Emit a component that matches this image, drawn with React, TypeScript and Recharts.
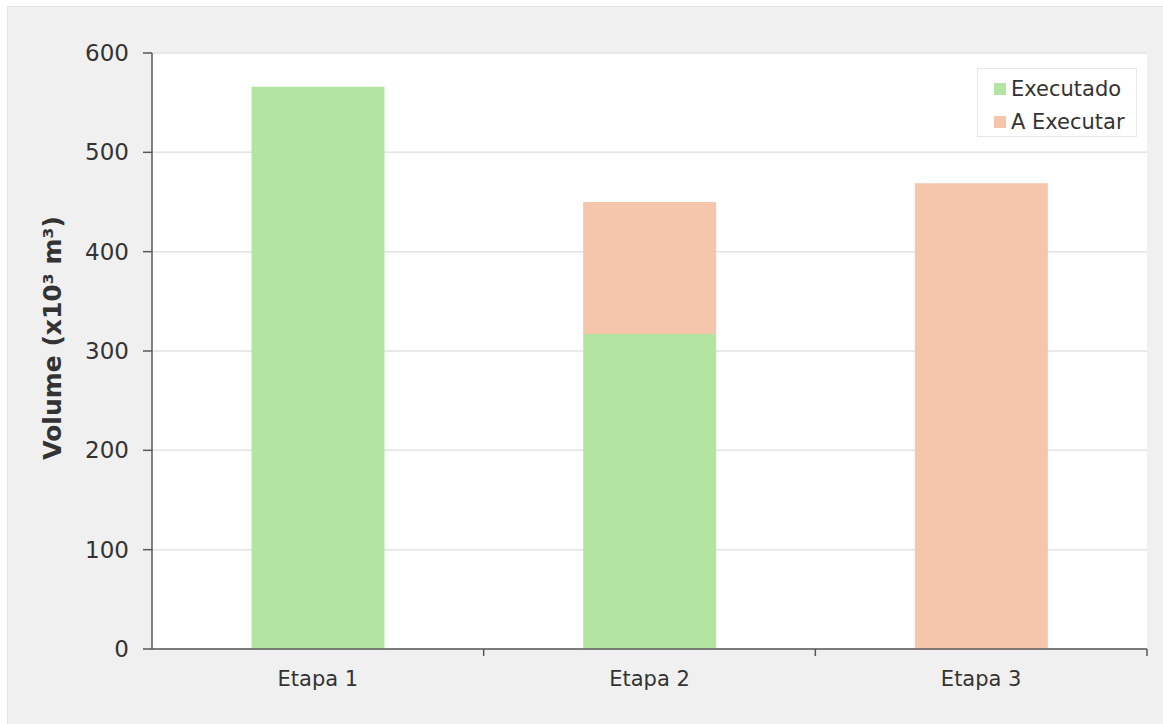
import React from 'react';
import { BarChart, Bar, XAxis, YAxis, CartesianGrid, Legend } from 'recharts';

const etapas = ['Etapa 1', 'Etapa 2', 'Etapa 3'];
const executado = [566, 317, 0];
const aExecutar = [0, 133, 469];
const yTicks = [0, 100, 200, 300, 400, 500, 600];

const seriesNames = ['Executado', 'A Executar'];
const seriesColors = ['#b4e4a2', '#f5c6ab'];

const FONT = '"DejaVu Sans", Verdana, sans-serif';
const AXIS = '#595959';
const TEXT = '#333333';

const data = etapas.map((name, i) => ({
  name,
  executado: executado[i],
  aExecutar: aExecutar[i],
}));

const X_TICK_SIZE = 7;
const X_TICK_MARGIN = 15;

// category label + tick mark at the right edge of each band (Excel style)
function EtapaTick(props: any) {
  const { x, y, payload } = props;
  const edge = x + (payload.offset || 0);
  const axisY = y - X_TICK_SIZE - X_TICK_MARGIN;
  return (
    <g>
      <line x1={edge} x2={edge} y1={axisY} y2={axisY + X_TICK_SIZE} stroke={AXIS} strokeWidth={1.5} />
      <text x={x} y={y} dy="0.71em" textAnchor="middle" fill={TEXT} fontSize={21} fontFamily={FONT}>
        {payload.value}
      </text>
    </g>
  );
}

function LegendBox(props: any) {
  // keep the legend in series order (Executado first)
  const items = [...(props.payload || [])].sort(
    (a: any, b: any) => seriesNames.indexOf(a.value) - seriesNames.indexOf(b.value)
  );
  return (
    <div
      style={{
        background: '#fff',
        border: '1px solid #e6e6e6',
        width: 160,
        height: 69,
        boxSizing: 'border-box',
        padding: '3px 0 0 16px',
        fontFamily: FONT,
        fontSize: 21,
        color: TEXT,
      }}
    >
      {items.map((p: any) => (
        <div key={p.value} style={{ display: 'flex', alignItems: 'center', height: 33, whiteSpace: 'nowrap' }}>
          <span style={{ width: 12, height: 12, background: p.color, marginRight: 5, display: 'inline-block' }} />
          <span>{p.value}</span>
        </div>
      ))}
    </div>
  );
}

export default function App() {
  return (
    <div
      style={{
        position: 'absolute',
        left: 7,
        top: 6,
        width: 1156,
        height: 718,
        background: '#f0f0f0',
        borderLeft: '1px solid #e4e4e4',
        borderTop: '1px solid #e4e4e4',
        boxSizing: 'border-box',
      }}
    >
      <BarChart
        width={1156}
        height={718}
        data={data}
        margin={{ top: 47, right: 16, left: 0, bottom: 0 }}
        barCategoryGap="30%"
        style={{ position: 'absolute', left: -1, top: -1 }}
      >
        <CartesianGrid vertical={false} stroke="#e2e2e2" strokeWidth={1.5} fill="#ffffff" fillOpacity={1} />
        <XAxis
          dataKey="name"
          height={75}
          axisLine={{ stroke: AXIS, strokeWidth: 1.5 }}
          tickLine={false}
          tickSize={X_TICK_SIZE}
          tickMargin={X_TICK_MARGIN}
          tick={<EtapaTick />}
          interval={0}
        />
        <YAxis
          width={145}
          domain={[0, 600]}
          ticks={yTicks}
          interval={0}
          axisLine={{ stroke: AXIS, strokeWidth: 1.5 }}
          tickLine={{ stroke: AXIS, strokeWidth: 1.5 }}
          tickSize={9}
          tickMargin={14}
          tick={{ fill: TEXT, fontSize: 23, fontFamily: FONT }}
          label={{
            value: 'Volume (x10³ m³)',
            angle: -90,
            position: 'center',
            dx: -27,
            dy: -13,
            fill: TEXT,
            fontSize: 25,
            fontWeight: 'bold',
            fontFamily: FONT,
          }}
        />
        <Legend
          layout="horizontal"
          verticalAlign="middle"
          align="center"
          content={<LegendBox />}
          wrapperStyle={{ position: 'absolute', left: 970, top: 62, width: 160, height: 69 }}
        />
        <Bar dataKey="executado" name={seriesNames[0]} stackId="v" fill={seriesColors[0]} isAnimationActive={false} />
        <Bar dataKey="aExecutar" name={seriesNames[1]} stackId="v" fill={seriesColors[1]} isAnimationActive={false} />
      </BarChart>
    </div>
  );
}
